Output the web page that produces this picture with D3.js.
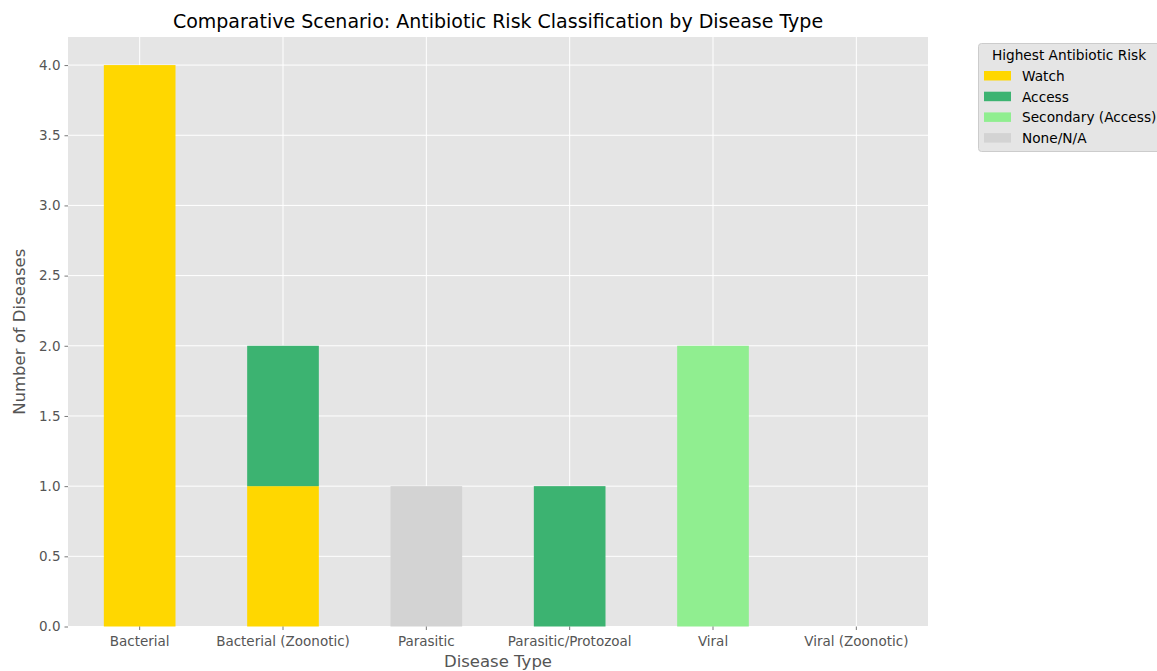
<!DOCTYPE html>
<html><head><meta charset="utf-8">
<script src="https://cdn.jsdelivr.net/npm/d3@7"></script>
<style>body{margin:0;background:#fff;} text{font-family:"DejaVu Sans",sans-serif;}</style>
</head><body><svg id="c" width="1157" height="671"></svg>
<script>
const categories = ["Bacterial","Bacterial (Zoonotic)","Parasitic","Parasitic/Protozoal","Viral","Viral (Zoonotic)"];
const seriesNames = ["Watch","Access","Secondary (Access)","None/N/A"];
const watch = [4,1,0,0,0,0];
const access = [0,1,0,1,0,0];
const secondary = [0,0,0,0,2,0];
const noneNA = [0,0,1,0,0,0];
const colors = ["#FFD700","#3CB371","#90EE90","#D3D3D3"];
const yTicks = [0,0.5,1,1.5,2,2.5,3,3.5,4];

const svg = d3.select("#c");
const L=68,R=928,T=37,B=626.5;
const x = d3.scaleBand().domain(categories).range([L,R]).paddingInner(0.5).paddingOuter(0.25);
const y = d3.scaleLinear().domain([0,4.2]).range([B,T]);

svg.append("rect").attr("x",L).attr("y",T).attr("width",R-L).attr("height",B-T).attr("fill","#E5E5E5");
const g = svg.append("g");
yTicks.forEach(t=>{
  g.append("line").attr("x1",L).attr("x2",R).attr("y1",y(t)).attr("y2",y(t)).attr("stroke","#fff").attr("stroke-width",1);
});
categories.forEach(c=>{
  const cx = x(c)+x.bandwidth()/2;
  g.append("line").attr("x1",cx).attr("x2",cx).attr("y1",T).attr("y2",B).attr("stroke","#fff").attr("stroke-width",1);
});

const rows = categories.map((c,i)=>({cat:c, "Watch":watch[i], "Access":access[i], "Secondary (Access)":secondary[i], "None/N/A":noneNA[i]}));
const stack = d3.stack().keys(seriesNames)(rows);
stack.forEach((s,si)=>{
  svg.append("g").selectAll("rect").data(s.filter(d=>d[1]-d[0]>0)).join("rect")
    .attr("x",d=>x(d.data.cat)).attr("width",x.bandwidth())
    .attr("y",d=>y(d[1])).attr("height",d=>y(d[0])-y(d[1]))
    .attr("fill",colors[si]);
});

const xa = svg.append("g").attr("transform",`translate(0,${B})`)
  .call(d3.axisBottom(x).tickSize(3.5).tickPadding(4));
const ya = svg.append("g").attr("transform",`translate(${L},0)`)
  .call(d3.axisLeft(y).tickValues(yTicks).tickFormat(d3.format(".1f")).tickSize(3.5).tickPadding(4));
[xa,ya].forEach(a=>{
  a.select(".domain").remove();
  a.selectAll("line").attr("stroke","#555").attr("stroke-width",0.8);
  a.selectAll("text").attr("fill","#555").style("font-size","13.5px").style("font-family","DejaVu Sans");
});
xa.selectAll("text").attr("dy","0.9em");

svg.append("text").attr("x",(L+R)/2).attr("y",28).attr("text-anchor","middle").style("font-size","19px").attr("fill","#000")
  .text("Comparative Scenario: Antibiotic Risk Classification by Disease Type");
svg.append("text").attr("x",(L+R)/2).attr("y",667).attr("text-anchor","middle").style("font-size","16.5px").attr("fill","#555").text("Disease Type");
svg.append("text").attr("transform",`translate(25,${(T+B)/2}) rotate(-90)`).attr("text-anchor","middle").style("font-size","16.5px").attr("fill","#555").text("Number of Diseases");

const lg = svg.append("g");
lg.append("rect").attr("x",978.5).attr("y",43.5).attr("width",190).attr("height",108).attr("rx",3)
  .attr("fill","#E5E5E5").attr("stroke","#ccc").attr("stroke-width",1);
lg.append("text").attr("x",1069).attr("y",60).attr("text-anchor","middle").style("font-size","13.7px").attr("fill","#000").text("Highest Antibiotic Risk");
seriesNames.forEach((n,i)=>{
  const yy = 76 + i*20.7;
  lg.append("rect").attr("x",984).attr("y",yy-5).attr("width",27).attr("height",9.5).attr("fill",colors[i]);
  lg.append("text").attr("x",1022).attr("y",yy+5).style("font-size","13.7px").attr("fill","#000").text(n);
});
</script></body></html>
